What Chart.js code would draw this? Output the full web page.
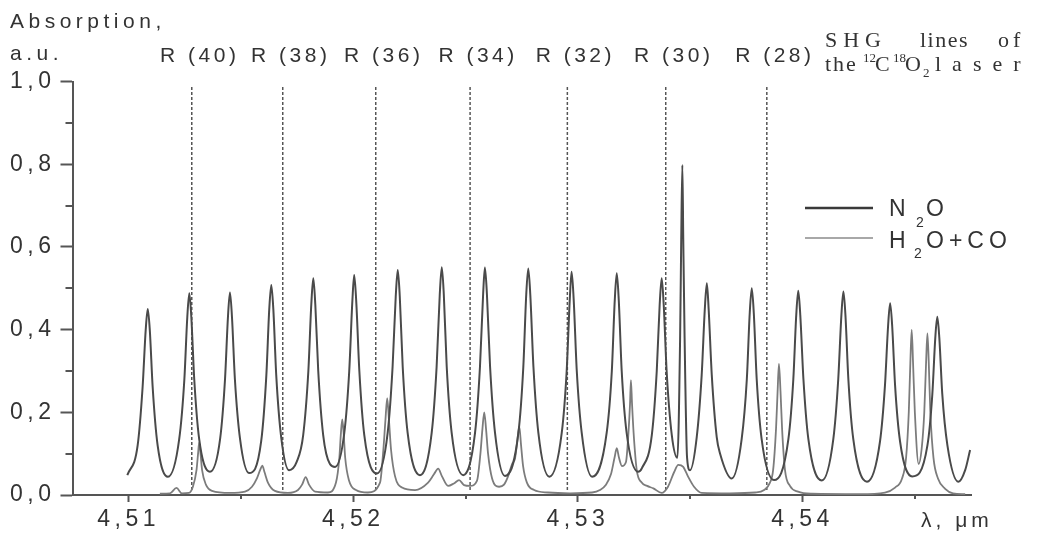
<!DOCTYPE html>
<html>
<head>
<meta charset="utf-8">
<script src="https://cdn.jsdelivr.net/npm/chart.js@4.4.1/dist/chart.umd.min.js"></script>
<style>
  html, body { margin: 0; padding: 0; background: #fff; }
</style>
</head>
<body>
<canvas id="spectrum" width="1038" height="534"></canvas>
<script>
// wavelength (um) and absorption (a.u.)
const n2oX = [
  4.50994, 4.51040, 4.51062, 4.51076, 4.51085, 4.51094, 4.51107, 4.51129, 4.51175,
  4.51225, 4.51248, 4.51261, 4.51270, 4.51279, 4.51292, 4.51314, 4.51362,
  4.51407, 4.51429, 4.51442, 4.51451, 4.51460, 4.51473, 4.51496, 4.51536,
  4.51590, 4.51613, 4.51626, 4.51635, 4.51644, 4.51657, 4.51679, 4.51714, 4.51748,
  4.51777, 4.51800, 4.51813, 4.51822, 4.51831, 4.51844, 4.51866, 4.51896, 4.51919,
  4.51960, 4.51982, 4.51996, 4.52004, 4.52013, 4.52027, 4.52049, 4.52106,
  4.52153, 4.52175, 4.52189, 4.52198, 4.52207, 4.52220, 4.52242, 4.52297,
  4.52349, 4.52371, 4.52385, 4.52394, 4.52403, 4.52416, 4.52438, 4.52489,
  4.52542, 4.52564, 4.52578, 4.52586, 4.52595, 4.52609, 4.52631, 4.52675,
  4.52735, 4.52757, 4.52770, 4.52779, 4.52788, 4.52802, 4.52824, 4.52873,
  4.52928, 4.52950, 4.52964, 4.52972, 4.52981, 4.52995, 4.53017, 4.53063,
  4.53128, 4.53151, 4.53164, 4.53173, 4.53182, 4.53195, 4.53217, 4.53268, 4.53285,
  4.53329, 4.53351, 4.53364, 4.53373, 4.53382, 4.53395, 4.53418,
  4.53443, 4.53455, 4.53460, 4.53465, 4.53469, 4.53475, 4.53486, 4.53499,
  4.53529, 4.53551, 4.53565, 4.53574, 4.53582, 4.53596, 4.53618, 4.53633, 4.53685,
  4.53729, 4.53752, 4.53765, 4.53774, 4.53783, 4.53796, 4.53818, 4.53873,
  4.53937, 4.53959, 4.53972, 4.53981, 4.53990, 4.54004, 4.54026, 4.54086,
  4.54137, 4.54159, 4.54173, 4.54182, 4.54191, 4.54204, 4.54226, 4.54287,
  4.54345, 4.54367, 4.54381, 4.54390, 4.54399, 4.54412, 4.54434, 4.54488,
  4.54556, 4.54578, 4.54591, 4.54600, 4.54609, 4.54622, 4.54645, 4.54694, 4.54724, 4.54746
];
const n2oY = [
  0.048, 0.12, 0.26, 0.40, 0.45, 0.40, 0.26, 0.12, 0.044,
  0.135, 0.28, 0.43, 0.488, 0.43, 0.28, 0.135, 0.056,
  0.135, 0.28, 0.43, 0.49, 0.43, 0.28, 0.135, 0.053,
  0.13, 0.29, 0.45, 0.508, 0.45, 0.29, 0.14, 0.06, 0.08,
  0.145, 0.30, 0.46, 0.524, 0.46, 0.30, 0.145, 0.075, 0.068,
  0.15, 0.30, 0.47, 0.532, 0.47, 0.30, 0.145, 0.052,
  0.15, 0.31, 0.48, 0.544, 0.48, 0.31, 0.15, 0.048,
  0.15, 0.31, 0.485, 0.551, 0.485, 0.31, 0.15, 0.048,
  0.15, 0.31, 0.485, 0.55, 0.485, 0.31, 0.15, 0.046,
  0.15, 0.31, 0.485, 0.548, 0.485, 0.31, 0.15, 0.044,
  0.15, 0.30, 0.475, 0.54, 0.475, 0.30, 0.15, 0.044,
  0.15, 0.30, 0.47, 0.536, 0.47, 0.30, 0.15, 0.056, 0.065,
  0.145, 0.30, 0.46, 0.524, 0.46, 0.30, 0.145,
  0.09, 0.38, 0.62, 0.798, 0.62, 0.38, 0.09, 0.06,
  0.14, 0.29, 0.45, 0.512, 0.45, 0.29, 0.14, 0.10, 0.04,
  0.135, 0.28, 0.44, 0.50, 0.44, 0.28, 0.135, 0.036,
  0.135, 0.28, 0.435, 0.494, 0.435, 0.28, 0.135, 0.035,
  0.135, 0.28, 0.435, 0.492, 0.435, 0.28, 0.135, 0.032,
  0.13, 0.265, 0.41, 0.464, 0.41, 0.265, 0.13, 0.045,
  0.12, 0.245, 0.38, 0.431, 0.38, 0.245, 0.12, 0.032, 0.06, 0.109
];

const mixX = [
  4.51139, 4.51184, 4.51213, 4.51237, 4.51268,
  4.51286, 4.51302, 4.51309, 4.51314, 4.51320, 4.51327, 4.51344, 4.51371,
  4.51451, 4.51518, 4.51549, 4.51571, 4.51585, 4.51595, 4.51605, 4.51620, 4.51651,
  4.51709, 4.51754, 4.51772, 4.51788, 4.51803, 4.51830,
  4.51887, 4.51923, 4.51938, 4.51945, 4.51951, 4.51957, 4.51964, 4.51981, 4.52012,
  4.52065, 4.52119, 4.52134, 4.52143, 4.52151, 4.52159, 4.52168, 4.52186, 4.52217,
  4.52275, 4.52333, 4.52359, 4.52378, 4.52395, 4.52422, 4.52448, 4.52471, 4.52493,
  4.52520, 4.52551, 4.52566, 4.52575, 4.52583, 4.52591, 4.52600, 4.52618, 4.52649,
  4.52671, 4.52689, 4.52707, 4.52720, 4.52730, 4.52739, 4.52747, 4.52756, 4.52773, 4.52805,
  4.52867, 4.52965, 4.53063, 4.53098, 4.53125, 4.53147, 4.53163, 4.53173, 4.53183,
  4.53196, 4.53214, 4.53225, 4.53232, 4.53236, 4.53241, 4.53248, 4.53262, 4.53284,
  4.53308, 4.53336, 4.53373, 4.53401, 4.53428, 4.53447, 4.53469, 4.53490, 4.53517, 4.53551,
  4.53677, 4.53789, 4.53829, 4.53855, 4.53869, 4.53882, 4.53889, 4.53895, 4.53902,
  4.53909, 4.53922, 4.53944, 4.53980, 4.54042, 4.54256, 4.54367, 4.54412, 4.54443,
  4.54461, 4.54473, 4.54480, 4.54486, 4.54492, 4.54500, 4.54517, 4.54530, 4.54542,
  4.54550, 4.54556, 4.54562, 4.54569, 4.54583, 4.54603, 4.54635, 4.54670, 4.54724
];
const mixY = [
  0.003, 0.004, 0.017, 0.004, 0.005,
  0.02, 0.06, 0.10, 0.127, 0.10, 0.06, 0.025, 0.01,
  0.005, 0.008, 0.02, 0.04, 0.06, 0.071, 0.055, 0.03, 0.01,
  0.005, 0.012, 0.025, 0.043, 0.025, 0.008,
  0.006, 0.03, 0.09, 0.15, 0.183, 0.15, 0.09, 0.035, 0.012,
  0.006, 0.03, 0.11, 0.18, 0.234, 0.18, 0.11, 0.045, 0.018,
  0.012, 0.03, 0.05, 0.064, 0.045, 0.022, 0.028, 0.036, 0.024,
  0.022, 0.035, 0.10, 0.16, 0.20, 0.16, 0.10, 0.04, 0.02,
  0.025, 0.045, 0.075, 0.088, 0.13, 0.165, 0.12, 0.07, 0.03, 0.012,
  0.006, 0.004, 0.006, 0.012, 0.025, 0.05, 0.09, 0.113, 0.09,
  0.07, 0.08, 0.15, 0.22, 0.278, 0.22, 0.15, 0.06, 0.03,
  0.022, 0.016, 0.005, 0.02, 0.055, 0.073, 0.068, 0.045, 0.02, 0.005,
  0.004, 0.006, 0.012, 0.03, 0.06, 0.16, 0.25, 0.317, 0.25,
  0.16, 0.06, 0.022, 0.008, 0.003, 0.002, 0.006, 0.018, 0.04,
  0.09, 0.20, 0.32, 0.399, 0.32, 0.20, 0.075, 0.11, 0.20,
  0.32, 0.391, 0.32, 0.20, 0.09, 0.04, 0.015, 0.004, 0.002
];

// SHG lines of the 12C18O2 laser
const laserLines = [4.51281, 4.51686, 4.52100, 4.52520, 4.52953, 4.53391, 4.53841];
const laserLabels = ['R(40)', 'R(38)', 'R(36)', 'R(34)', 'R(32)', 'R(30)', 'R(28)'];
const laserSpan = [0.012, 0.99];

const xMajorTicks = [4.51, 4.52, 4.53, 4.54];
const xMinorTicks = [4.515, 4.525, 4.535, 4.545];
const yMajorTicks = [0, 0.2, 0.4, 0.6, 0.8, 1.0];
const yMinorTicks = [0.1, 0.3, 0.5, 0.7, 0.9];

const INK = '#333';
const AXIS = '#555';
const SANS = '"Liberation Sans", Arial, sans-serif';
const SERIF = '"Liberation Serif", "Times New Roman", serif';

function txt(ctx, s, x, y, size, ls, family, align) {
  ctx.font = size + 'px ' + (family || SANS);
  ctx.letterSpacing = ls + 'px';
  ctx.textAlign = align || 'left';
  ctx.textBaseline = 'alphabetic';
  ctx.fillText(s, x, y);
}

const decorations = {
  id: 'decorations',
  beforeDraw(chart) {
    chart.ctx.letterSpacing = '4.5px';
  },
  afterDraw(chart) {
    const ctx = chart.ctx;
    const xs = chart.scales.x, ys = chart.scales.y;
    const area = chart.chartArea;
    ctx.save();

    // minor ticks
    ctx.strokeStyle = AXIS;
    ctx.lineWidth = 2;
    ctx.beginPath();
    xMinorTicks.forEach(v => {
      const px = Math.round(xs.getPixelForValue(v));
      ctx.moveTo(px, area.bottom);
      ctx.lineTo(px, area.bottom + 4);
    });
    yMinorTicks.forEach(v => {
      const py = Math.round(ys.getPixelForValue(v));
      ctx.moveTo(area.left - 7, py);
      ctx.lineTo(area.left, py);
    });
    ctx.stroke();

    ctx.fillStyle = INK;
    // y axis title
    txt(ctx, 'Absorption,', 10, 28, 21, 4.5);
    txt(ctx, 'a.u.', 10, 60, 21, 4.5);

    // laser line labels
    laserLines.forEach((v, i) => {
      txt(ctx, laserLabels[i].replace('(', ' ('), xs.getPixelForValue(v) + 8, 62, 21, 3.5, SANS, 'center');
    });

    // x axis unit
    txt(ctx, '\u03bb, \u03bcm', 921, 527, 21, 4);

    // laser caption
    txt(ctx, 'SHG', 825, 47, 22, 6, SERIF);
    txt(ctx, 'lines', 920, 47, 22, 1.5, SERIF);
    txt(ctx, 'of', 998, 47, 22, 4, SERIF);
    txt(ctx, 'the', 825, 71, 22, 2, SERIF);
    txt(ctx, '12', 863, 62, 13, 0, SERIF);
    txt(ctx, 'C', 875, 71, 22, 0, SERIF);
    txt(ctx, '18', 893, 62, 13, 0, SERIF);
    txt(ctx, 'O', 905, 71, 22, 0, SERIF);
    txt(ctx, '2', 923, 77, 13, 0, SERIF);
    txt(ctx, 'laser', 935, 71, 22, 11, SERIF);

    // legend
    ctx.lineWidth = 2.5;
    ctx.strokeStyle = '#3a3a3a';
    ctx.beginPath(); ctx.moveTo(805, 208); ctx.lineTo(873, 208); ctx.stroke();
    ctx.lineWidth = 2;
    ctx.strokeStyle = '#a8a8a8';
    ctx.beginPath(); ctx.moveTo(805, 238); ctx.lineTo(873, 238); ctx.stroke();
    ctx.fillStyle = INK;
    txt(ctx, 'N', 889, 216, 23, 0);
    txt(ctx, '2', 916, 227, 14, 0);
    txt(ctx, 'O', 926, 216, 23, 0);
    txt(ctx, 'H', 889, 248, 23, 0);
    txt(ctx, '2', 914, 258, 14, 0);
    txt(ctx, 'O+CO', 926, 248, 23, 5);

    ctx.restore();
  }
};

const tickFont = { family: SANS, size: 23 };

new Chart(document.getElementById('spectrum'), {
  type: 'scatter',
  data: {
    datasets: [
      {
        label: 'N2O',
        data: n2oX.map((x, i) => ({ x, y: n2oY[i] })),
        showLine: true,
        borderColor: '#4a4a4a',
        borderWidth: 2,
        pointRadius: 0,
        cubicInterpolationMode: 'monotone',
      },
      {
        label: 'H2O+CO',
        data: mixX.map((x, i) => ({ x, y: mixY[i] })),
        showLine: true,
        borderColor: '#7c7c7c',
        borderWidth: 1.8,
        pointRadius: 0,
        cubicInterpolationMode: 'monotone',
      },
      ...laserLines.map((v, i) => ({
        label: laserLabels[i],
        data: [{ x: v, y: laserSpan[0] }, { x: v, y: laserSpan[1] }],
        showLine: true,
        borderColor: '#555',
        borderWidth: 1.5,
        borderDash: [3, 2],
        pointRadius: 0,
      })),
    ],
  },
  options: {
    responsive: false,
    animation: false,
    devicePixelRatio: 1,
    layout: { padding: { top: 81.5, right: 67, left: 0, bottom: 0 } },
    plugins: { legend: { display: false }, tooltip: { enabled: false } },
    scales: {
      x: {
        type: 'linear',
        min: 4.5075,
        max: 4.5475,
        afterFit: (s) => { s.height = 39; },
        afterBuildTicks: (s) => { s.ticks = xMajorTicks.map(v => ({ value: v })); },
        ticks: {
          font: tickFont,
          color: INK,
          padding: 4,
          maxRotation: 0,
          autoSkip: false,
          callback: (v) => v.toFixed(2).replace('.', ','),
        },
        grid: { drawOnChartArea: false, drawTicks: true, tickLength: 7, tickWidth: 2, tickColor: AXIS },
        border: { color: AXIS, width: 2 },
      },
      y: {
        type: 'linear',
        min: 0,
        max: 1,
        afterFit: (s) => { s.width = 72.5; },
        afterBuildTicks: (s) => { s.ticks = yMajorTicks.map(v => ({ value: v })); },
        ticks: {
          font: tickFont,
          color: INK,
          padding: 5,
          callback: (v) => v.toFixed(1).replace('.', ','),
        },
        grid: { drawOnChartArea: false, drawTicks: true, tickLength: 12, tickWidth: 2, tickColor: AXIS },
        border: { color: AXIS, width: 2 },
      },
    },
  },
  plugins: [decorations],
});
</script>
</body>
</html>
